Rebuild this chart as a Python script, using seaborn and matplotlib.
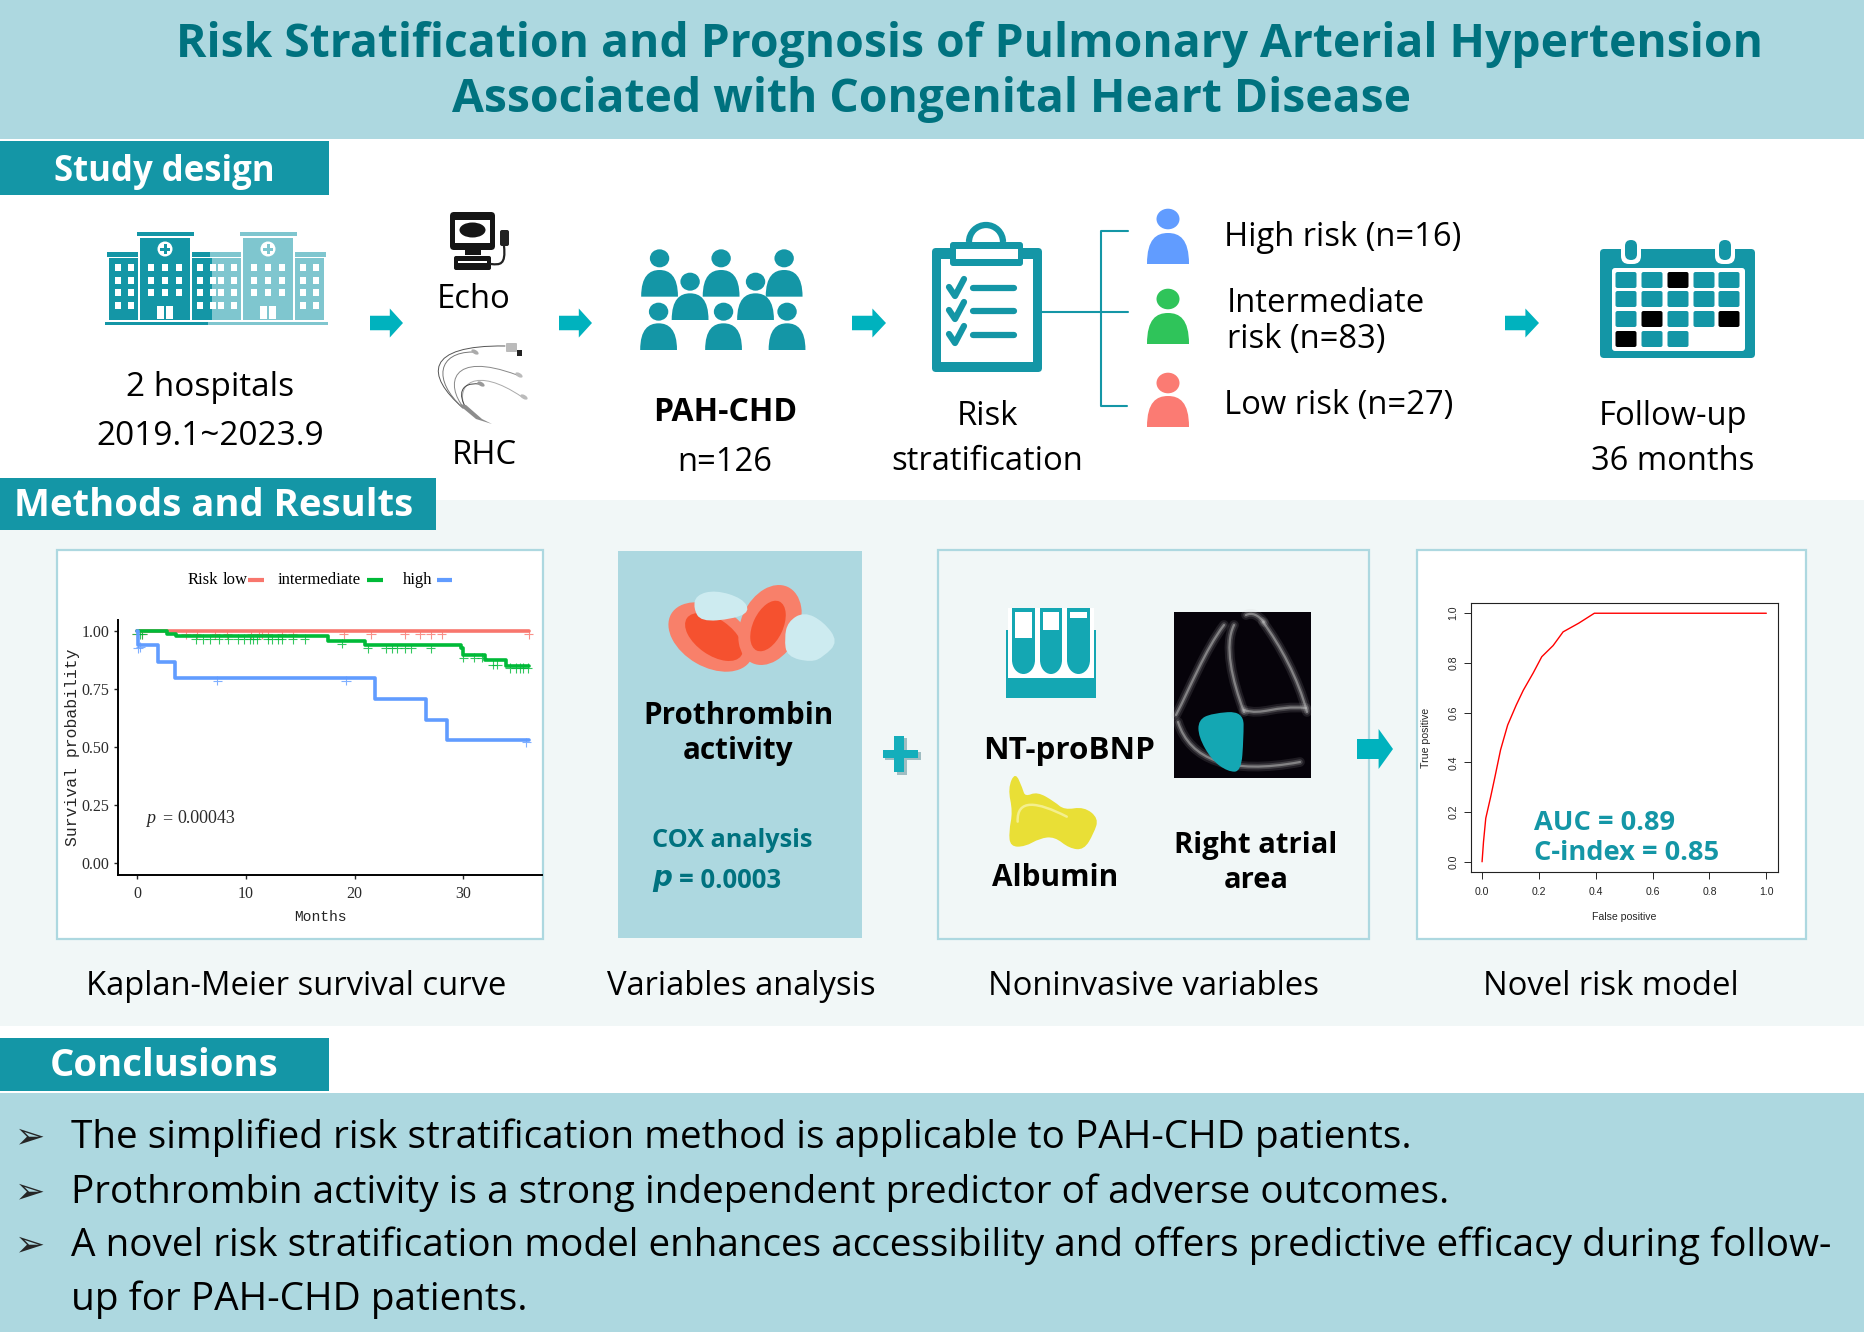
import numpy as np
import pandas as pd
import seaborn as sns
import matplotlib
matplotlib.use("Agg")
import matplotlib.pyplot as plt
from matplotlib.patches import Rectangle, FancyBboxPatch, Ellipse, Polygon, PathPatch, Circle, Arc
from matplotlib.path import Path

# Kaplan-Meier steps
km_low_t = [0, 36]
km_low_s = [1.0, 1.0]
km_mid_t = [0, 2.8, 3.6, 17.6, 21.0, 29.8, 30.0, 32.0, 33.9, 36]
km_mid_s = [1.0, 0.988, 0.976, 0.955, 0.94, 0.925, 0.898, 0.875, 0.85, 0.85]
km_high_t = [0, 0.05, 1.9, 3.5, 21.9, 26.6, 28.5, 36]
km_high_s = [1.0, 0.9375, 0.865, 0.795, 0.705, 0.618, 0.53, 0.53]

# censor ticks
cens_low_t = [0, 0.5, 4.5, 5.5, 7.2, 8.3, 10.5, 11.2, 11.5, 12, 13.3, 14.3, 19, 21.5, 24.6, 26, 27, 28, 36]
cens_low_s = [0.985] * len(cens_low_t)
cens_mid_t = [0, 0.3, 0.5, 5.4, 6.1, 6.7, 7.5, 8.4, 9.3, 9.8, 10.4, 10.7, 11, 12, 12.4, 13, 13.3, 14.3, 15.4,
              18.8, 21.2, 22.9, 23.4, 23.9, 24.6, 25.2, 27, 30, 31, 31.7, 32.7, 33.1, 34.3, 34.8, 35.2, 35.5, 35.9]
cens_mid_s = [0.985, 0.985, 0.985] + [0.965] * 16 + [0.945, 0.925, 0.925, 0.925, 0.925, 0.925, 0.925, 0.925,
              0.885, 0.885, 0.885, 0.855, 0.855, 0.84, 0.84, 0.84, 0.84, 0.84]
cens_high_t = [0.1, 0.3, 7.4, 19.2, 35.8]
cens_high_s = [0.925, 0.93, 0.785, 0.785, 0.52]

# ROC curve
roc_fp = [0, 0.005, 0.013, 0.03, 0.045, 0.065, 0.09, 0.12, 0.145, 0.18, 0.21, 0.25, 0.285, 0.34, 0.395, 1.0]
roc_tp = [0, 0.08, 0.175, 0.26, 0.34, 0.45, 0.55, 0.63, 0.69, 0.76, 0.825, 0.87, 0.925, 0.96, 1.0, 1.0]

risk_levels = ["low", "intermediate", "high"]
risk_colors = {"low": "#F8766D", "intermediate": "#00BA38", "high": "#619CFF"}

conclusions = [
    "The simplified risk stratification method is applicable to PAH-CHD patients.",
    "Prothrombin activity is a strong independent predictor of adverse outcomes.",
    "A novel risk stratification model enhances accessibility and offers predictive efficacy during follow-",
    "up for PAH-CHD patients.",
]

BAND = "#ADD8E0"
TEAL = "#1496A6"
TITLE = "#00727F"
ARROW = "#00B2BE"
PALE = "#F1F7F7"
W, H = 1865, 1332

sns.set_style("white")
plt.rcParams["font.family"] = ["Open Sans", "DejaVu Sans"]

fig = plt.figure(figsize=(W / 100, H / 100), dpi=100, facecolor="white")
bg = fig.add_axes([0, 0, 1, 1])
bg.set_xlim(0, W)
bg.set_ylim(H, 0)
bg.axis("off")


def rect(x0, y0, x1, y1, color, ec="none", lw=0, z=1, **kw):
    bg.add_patch(Rectangle((x0, y0), x1 - x0, y1 - y0, fc=color, ec=ec, lw=lw, zorder=z, **kw))


def rrect(x0, y0, x1, y1, color, r=3, z=3, **kw):
    bg.add_patch(FancyBboxPatch((x0 + r, y0 + r), x1 - x0 - 2 * r, y1 - y0 - 2 * r,
                                boxstyle=f"round,pad={r},rounding_size={r}", fc=color, ec="none", zorder=z, **kw))


def put(x, y, s, size=23.6, ha="center", color="black", weight="normal", **kw):
    bg.text(x, y + 3.5, s, fontsize=size, ha=ha, va="center", color=color, fontweight=weight, zorder=6, **kw)


def arrow(x0, x1, yc, h=29, color=ARROW):
    neck = x0 + (x1 - x0) * 0.6
    bg.add_patch(Polygon([(x0, yc - h * 0.25), (neck, yc - h * 0.25), (neck, yc - h * 0.5), (x1, yc),
                          (neck, yc + h * 0.5), (neck, yc + h * 0.25), (x0, yc + h * 0.25)],
                         fc=color, ec="none", zorder=4))


def person(cx, head_y, rx, ry, top, bot, hw, color):
    bg.add_patch(Ellipse((cx, head_y), 2 * rx, 2 * ry, fc=color, ec="none", zorder=4))
    verts = [(cx - hw, bot), (cx - hw, top + 6), (cx - hw * 0.55, top), (cx, top),
             (cx + hw * 0.55, top), (cx + hw, top + 6), (cx + hw, bot), (cx - hw, bot)]
    codes = [Path.MOVETO, Path.CURVE4, Path.CURVE4, Path.CURVE4, Path.CURVE4, Path.CURVE4, Path.CURVE4, Path.CLOSEPOLY]
    bg.add_patch(PathPatch(Path(verts, codes), fc=color, ec="none", zorder=4))


def curve(p0, c1, c2, p1, color, lw, alpha=1.0, z=4):
    path = Path([p0, c1, c2, p1], [Path.MOVETO, Path.CURVE4, Path.CURVE4, Path.CURVE4])
    bg.add_patch(PathPatch(path, fc="none", ec=color, lw=lw, alpha=alpha, zorder=z, capstyle="round"))


def zoomed(points):
    return [(610 + zx / 2.036, 545 + zy / 3) for zx, zy in points]


def blob(points, color, z=5):
    # closed smooth outline, the points act as quadratic control points
    pts = np.array(points, dtype=float)
    mids = (pts + np.roll(pts, -1, axis=0)) / 2
    verts = [mids[-1]]
    codes = [Path.MOVETO]
    for p, m in zip(pts, mids):
        verts += [p, m]
        codes += [Path.CURVE3, Path.CURVE3]
    bg.add_patch(PathPatch(Path(verts, codes), fc=color, ec="none", zorder=z))


# bands
rect(0, 0, W, 139, BAND)
rect(0, 500, W, 1026, PALE)
rect(0, 1093, W, H, BAND)
rect(0, 141, 329, 195, TEAL, z=2)
rect(0, 478, 436, 530, TEAL, z=2)
rect(0, 1038, 329, 1091, TEAL, z=2)

put(969, 41, "Risk Stratification and Prognosis of Pulmonary Arterial Hypertension", 33.3, color=TITLE, weight="bold")
put(932, 96, "Associated with Congenital Heart Disease", 33.3, color=TITLE, weight="bold")
put(164, 169, "Study design", 25, color="white", weight="bold")
put(214, 503, "Methods and Results", 27.5, color="white", weight="bold")
put(164, 1063, "Conclusions", 27.5, color="white", weight="bold")


# hospitals
def hospital(x0, color):
    rect(x0, 258, x0 + 29, 320, color, z=3)
    rect(x0 - 2, 252, x0 + 29, 257, color, z=3)
    rect(x0 + 31, 238, x0 + 81, 320, color, z=3)
    rect(x0 + 28, 232, x0 + 85, 236, color, z=3)
    rect(x0 + 83, 258, x0 + 112, 320, color, z=3)
    rect(x0 + 83, 252, x0 + 114, 257, color, z=3)
    for ry in [267, 280, 292, 305]:
        for wx in [x0 + 9, x0 + 22, x0 + 91, x0 + 104]:
            rect(wx - 3, ry - 3.5, wx + 3, ry + 3.5, "white", z=4)
    for ry in [267, 280, 292]:
        for wx in [x0 + 42, x0 + 56, x0 + 70]:
            rect(wx - 3, ry - 3.5, wx + 3, ry + 3.5, "white", z=4)
    rect(x0 + 48, 306, x0 + 55, 319, "white", z=4)
    rect(x0 + 57, 306, x0 + 64, 319, "white", z=4)
    bg.add_patch(Circle((x0 + 56, 249), 7.5, fc="white", ec="none", zorder=4))
    rect(x0 + 54.5, 244, x0 + 57.5, 254, color, z=5)
    rect(x0 + 51, 247.5, x0 + 61, 250.5, color, z=5)


hospital(109, TEAL)
rect(213, 250, 245, 322, "white", z=3)
hospital(212, "#7FC6CF")
rect(105, 322, 328, 325, "#7FC6CF", z=3)
rect(105, 322, 208, 325, TEAL, z=4)

put(210, 384, "2 hospitals", 24)
put(210, 433, "2019.1~2023.9", 24)

# echo machine
rrect(450, 212, 495, 250, "#151515", r=4)
rect(455, 220, 490, 243, "white", z=4)
bg.add_patch(Ellipse((472.5, 230), 26, 15, fc="#151515", ec="none", zorder=5))
rect(465, 250, 481, 255, "#151515", z=3)
rrect(454, 256, 491, 270, "#151515", r=2)
rect(458, 261, 487, 263, "white", z=4)
rrect(500, 230, 509, 246, "#222222", r=2)
curve((504, 246), (506, 265), (500, 265), (491, 264), "#222222", 1.6)
put(474, 296, "Echo", 23.6)

# catheter
curve((463, 408), (425, 375), (425, 345), (505, 346), "#555555", 0.7)
curve((463, 408), (432, 380), (438, 352), (473, 352), "#777777", 0.7)
curve((464, 408), (445, 385), (450, 350), (517, 375), "#888888", 0.7)
curve((465, 408), (455, 385), (475, 365), (522, 397), "#aaaaaa", 0.7)
curve((466, 408), (458, 395), (460, 382), (479, 384), "#444444", 0.7)
for ex, ey, col in [(473, 352, "#aaaaaa"), (517, 375, "#bbbbbb"), (522, 397, "#bbbbbb"), (479, 384, "#999999")]:
    bg.add_patch(Ellipse((ex + 2, ey), 8, 4, angle=30, fc=col, ec="none", zorder=5))
rrect(506, 343, 517, 352, "#bbbbbb", r=1)
rect(517, 350, 522, 356, "#222222", z=5)
bg.add_patch(Polygon([(458, 404), (466, 405), (482, 419), (492, 424), (476, 419)], fc="#8C8C8C", ec="none", zorder=5))
put(484, 452, "RHC", 23.6)

# PAH-CHD crowd
crowd = [(1175, 175, 210, 290), (1302, 175, 210, 290), (1432, 175, 210, 290),
         (1238, 245, 280, 360), (1373, 245, 280, 360),
         (1173, 335, 370, 450), (1307, 335, 370, 450), (1438, 335, 370, 450)]
for zx, zh, zt, zb in crowd:
    person(90 + zx / 2.063, 200 + zh / 3, 9.7, 9, 200 + zt / 3, 200 + zb / 3, 18.4, TEAL)
put(725, 409, "PAH-CHD", 23, weight="bold")
put(725, 459, "n=126", 23.6)

# clipboard
rrect(932, 248, 1042, 372, TEAL, r=4)
rect(941, 259, 1033, 362, "white", z=4)
bg.add_patch(Arc((986, 242), 34, 34, theta1=180, theta2=360, ec=TEAL, lw=4.5, zorder=4))
rrect(950, 242, 1023, 266, TEAL, r=3, z=5)
rect(956, 249, 1018, 259, "white", z=6)
for yc in [288, 311, 335]:
    bg.plot([949, 955, 964], [yc - 1, yc + 8, yc - 9], color=TEAL, lw=4.5, solid_joinstyle="round", zorder=6)
    bg.plot([973, 1014], [yc, yc], color=TEAL, lw=4.5, solid_capstyle="round", zorder=6)
put(987, 413, "Risk", 23.6)
put(987, 458, "stratification", 23.6)

# bracket
bg.plot([1041, 1128], [312, 312], color=TEAL, lw=1.5, zorder=3)
bg.plot([1128, 1101, 1101, 1127], [231, 231, 406, 406], color=TEAL, lw=1.5, zorder=3)

person(1168, 219, 11.5, 10.3, 233, 264, 21, "#619CFF")
person(1168, 299, 11.5, 10.3, 313, 344, 21, "#2FC45A")
person(1168, 383, 11.5, 10.3, 396, 427, 21, "#FB7B73")
put(1224, 234, "High risk (n=16)", 23.6, ha="left")
put(1227, 300, "Intermediate", 23.6, ha="left")
put(1227, 336, "risk (n=83)", 23.6, ha="left")
put(1224, 402, "Low risk (n=27)", 23.6, ha="left")

# calendar
rrect(1600, 249, 1755, 358, TEAL, r=4)
rrect(1612, 268, 1745, 351, "white", r=3, z=4)
for cx in [1631, 1725]:
    rrect(cx - 10, 240, cx + 10, 264, "white", r=8, z=5)
    rrect(cx - 6, 240, cx + 6, 260, TEAL, r=6, z=6)
cal_cols = [1626, 1652, 1678, 1704, 1729]
cal_rows = [280, 299, 319, 339]
black_cells = [(0, 2), (2, 1), (2, 4), (3, 0)]
for r, cy in enumerate(cal_rows):
    for c, cx in enumerate(cal_cols):
        if r == 3 and c > 2:
            continue
        col = "black" if (r, c) in black_cells else TEAL
        rrect(cx - 10.5, cy - 8, cx + 10.5, cy + 8, col, r=2, z=5)
put(1673, 413, "Follow-up", 23.6)
put(1673, 458, "36 months", 23.6)

for x0, x1 in [(370, 403), (559, 592), (852, 886), (1505, 1539)]:
    arrow(x0, x1, 323)

# panels
rect(57, 550, 543, 939, "white", ec=BAND, lw=1.6, z=2)
rect(618, 551, 862, 938, BAND, z=2)
rect(938, 550, 1369, 939, PALE, ec=BAND, lw=1.6, z=2)
rect(1417, 550, 1806, 939, "white", ec=BAND, lw=1.6, z=2)

# red cells
bg.add_patch(Ellipse((711, 637), 92, 60, angle=30, fc="#F8806A", ec="none", zorder=3))
bg.add_patch(Ellipse((714, 637), 66, 36, angle=35, fc="#F5512F", ec="none", zorder=4))
bg.add_patch(Ellipse((770, 625), 58, 84, angle=25, fc="#F8806A", ec="none", zorder=5))
bg.add_patch(Ellipse((768, 626), 30, 54, angle=25, fc="#F5512F", ec="none", zorder=5))
blob(zoomed([(175, 150), (215, 135), (270, 160), (285, 200), (250, 222), (185, 230), (170, 190)]), "#CDEBF0", z=6)
blob(zoomed([(362, 230), (395, 200), (435, 230), (465, 290), (435, 335), (410, 352), (360, 335), (355, 280)]), "#CDEBF0", z=6)
put(738, 713, "Prothrombin", 21.3, weight="bold")
put(738, 748, "activity", 21.3, weight="bold")
put(652, 837, "COX analysis", 18.2, ha="left", color=TITLE, weight="bold")
bg.text(652, 880, r"$\mathbfit{p}$", fontsize=20, va="center", color=TITLE, zorder=6)
put(679, 877, "= 0.0003", 18.5, ha="left", color=TITLE, weight="bold")

# plus sign
rect(897, 738, 907, 775, "#9FBDC2", z=2)
rect(885, 752, 921, 760, "#9FBDC2", z=2)
rect(894, 736, 904, 772, "#14AEBB", z=3)
rect(883, 750, 918, 758, "#14AEBB", z=3)

arrow(1357, 1393, 749, h=40)

# test tubes
rect(1006, 678, 1096, 698, "#14A7B3", z=3)
rect(1006, 630, 1008, 678, "#14A7B3", z=3)
rect(1094, 630, 1096, 678, "#14A7B3", z=3)
rect(1008, 608, 1094, 678, "white", z=3)
for tx0, tx1, white_end in [(1012, 1035, 638), (1040, 1062, 630), (1067, 1090, 618)]:
    rect(tx0, 608, tx1, 660, "#14A7B3", z=4)
    bg.add_patch(Ellipse(((tx0 + tx1) / 2, 660), tx1 - tx0, 28, fc="#14A7B3", ec="none", zorder=4))
    rect(tx0 + 3, 612, tx1 - 3, white_end, "white", z=5)
put(1069, 748, "NT-proBNP", 22.6, weight="bold")

# albumin
blob(zoomed([(810, 730), (825, 680), (840, 730), (845, 755), (870, 740), (905, 770), (925, 795), (965, 785),
             (995, 820), (985, 865), (965, 915), (935, 910), (905, 875), (875, 880), (845, 905), (815, 905),
             (812, 860), (820, 800)]), "#E9DF36", z=3)
curve(zoomed([(830, 830)])[0], zoomed([(828, 760)])[0], zoomed([(870, 770)])[0], zoomed([(930, 815)])[0],
      "#F4EF8E", 1.8)
put(1055, 875, "Albumin", 21.4, weight="bold")

# echo frame
rect(1174, 612, 1311, 778, "#06030A", z=3)
gray = "#C4C4C4"
for lw, a in [(7, 0.13), (4, 0.22), (1.6, 0.5)]:
    curve((1224, 625), (1205, 650), (1190, 688), (1176, 715), gray, lw, a)
    curve((1234, 625), (1224, 645), (1232, 680), (1244, 712), gray, lw, a)
    curve((1263, 622), (1280, 645), (1298, 678), (1307, 712), gray, lw, a)
    curve((1246, 615), (1252, 612), (1258, 615), (1264, 622), gray, lw, a)
    curve((1244, 710), (1262, 716), (1275, 705), (1306, 708), gray, lw, a)
    curve((1178, 722), (1190, 760), (1230, 775), (1300, 762), gray, lw, a)
blob(zoomed([(1198, 525), (1225, 505), (1290, 498), (1290, 580), (1285, 680), (1258, 680), (1225, 645), (1198, 575)]),
     "#14A7B3", z=5)
put(1256, 842, "Right atrial", 21, weight="bold")
put(1256, 877, "area", 21, weight="bold")

# captions
put(296, 983, "Kaplan-Meier survival curve", 23.6)
put(741, 983, "Variables analysis", 23.6)
put(1153, 983, "Noninvasive variables", 23.6)
put(1611, 983, "Novel risk model", 23.6)

# conclusions
for yc, s in zip([1134, 1189, 1242, 1296], conclusions):
    put(71, yc, s, 27.9, ha="left")
for yc in [1134, 1189, 1242]:
    bg.text(30, yc + 3, "\u27a2", fontsize=26, ha="center", va="center", family="DejaVu Sans", zorder=6)

# KM panel
serif = "Liberation Serif"
mono = "Liberation Mono"
km = fig.add_axes([117.7 / W, 1 - 875 / H, (541.7 - 117.7) / W, (875 - 620) / H], zorder=5)
km.patch.set_alpha(0)
curves = pd.concat([
    pd.DataFrame({"Months": km_low_t, "Survival": km_low_s, "risk": "low"}),
    pd.DataFrame({"Months": km_mid_t, "Survival": km_mid_s, "risk": "intermediate"}),
    pd.DataFrame({"Months": km_high_t, "Survival": km_high_s, "risk": "high"}),
])
ticks = pd.concat([
    pd.DataFrame({"Months": cens_low_t, "Survival": cens_low_s, "risk": "low"}),
    pd.DataFrame({"Months": cens_mid_t, "Survival": cens_mid_s, "risk": "intermediate"}),
    pd.DataFrame({"Months": cens_high_t, "Survival": cens_high_s, "risk": "high"}),
])
sns.lineplot(data=curves, x="Months", y="Survival", hue="risk", hue_order=risk_levels, palette=risk_colors,
             drawstyle="steps-post", estimator=None, sort=False, linewidth=2.6, legend=False, ax=km)
sns.scatterplot(data=ticks, x="Months", y="Survival", hue="risk", hue_order=risk_levels, palette=risk_colors,
                marker="+", s=45, linewidth=0.8, alpha=0.8, legend=False, ax=km)
km.set_xlim(-1.77, 37.2)
km.set_ylim(-0.052, 1.047)
km.set_xticks([0, 10, 20, 30])
km.set_yticks([0, 0.25, 0.5, 0.75, 1.0])
km.set_yticklabels(["0.00", "0.25", "0.50", "0.75", "1.00"])
km.tick_params(left=True, bottom=True, length=3, width=1, pad=3, labelsize=11.5, labelcolor="#2b2b2b")
km.tick_params(axis="x", pad=5)
for lab in km.get_xticklabels() + km.get_yticklabels():
    lab.set_family(serif)
for side in ["top", "right"]:
    km.spines[side].set_visible(False)
for side in ["left", "bottom"]:
    km.spines[side].set_color("black")
    km.spines[side].set_linewidth(1.4)
km.set_xlabel("Months", fontsize=10.5, family=mono, va="center")
km.set_ylabel("Survival probability", fontsize=11.8, family=mono, va="center")
km.xaxis.set_label_coords((320 - 117.7) / 424, -(917 - 875) / 255)
km.yaxis.set_label_coords((73 - 117.7) / 424, 0.5)
km.text(0.85, 0.19, "p", fontsize=13, style="italic", family=serif, va="center")
km.text(2.3, 0.19, "=", fontsize=13, family=serif, va="center", color="#2b2b2b")
km.text(3.68, 0.19, "0.00043", fontsize=13, family=serif, va="center", color="#2b2b2b")

# KM legend sits above the axes
put(188, 577, "Risk", 12, ha="left", family=serif)
put(223, 577, "low", 12, ha="left", family=serif)
put(278, 577, "intermediate", 12, ha="left", family=serif)
put(403, 577, "high", 12, ha="left", family=serif)
for x0, x1, lev in [(248, 264, "low"), (367, 383, "intermediate"), (437, 452, "high")]:
    bg.plot([x0, x1], [580, 580], color=risk_colors[lev], lw=3, solid_capstyle="butt", zorder=6)

# ROC panel
roc = fig.add_axes([1470.7 / W, 1 - 871.7 / H, (1777.7 - 1470.7) / W, (871.7 - 603.3) / H], zorder=5)
roc.patch.set_alpha(0)
sns.lineplot(x=roc_fp, y=roc_tp, color="red", linewidth=1.0, estimator=None, sort=False, ax=roc)
roc.set_xlim(-0.04, 1.04)
roc.set_ylim(-0.04, 1.04)
roc.set_xticks(np.arange(0, 1.01, 0.2))
roc.set_yticks(np.arange(0, 1.01, 0.2))
roc.tick_params(left=True, bottom=True, length=5, width=0.7, labelsize=7.6)
roc.tick_params(axis="x", pad=6)
roc.tick_params(axis="y", pad=4)
plt.setp(roc.get_yticklabels(), rotation=90, va="center")
for lab in roc.get_xticklabels() + roc.get_yticklabels():
    lab.set_family("Liberation Sans")
for s in roc.spines.values():
    s.set_color("#222222")
    s.set_linewidth(0.8)
roc.set_xlabel("False positive", fontsize=7.6, family="Liberation Sans", va="center")
roc.set_ylabel("True positive", fontsize=7.6, family="Liberation Sans", va="center")
roc.xaxis.set_label_coords(0.5, -0.169)
roc.yaxis.set_label_coords(-0.147, 0.5)
fig.text(1534 / W, 1 - 823 / H, "AUC = 0.89", fontsize=19.6, color=TEAL, fontweight="bold", va="center", zorder=7)
fig.text(1534 / W, 1 - 853 / H, "C-index = 0.85", fontsize=19.6, color=TEAL, fontweight="bold", va="center", zorder=7)

fig.savefig("out.png", dpi=100, facecolor="white")
